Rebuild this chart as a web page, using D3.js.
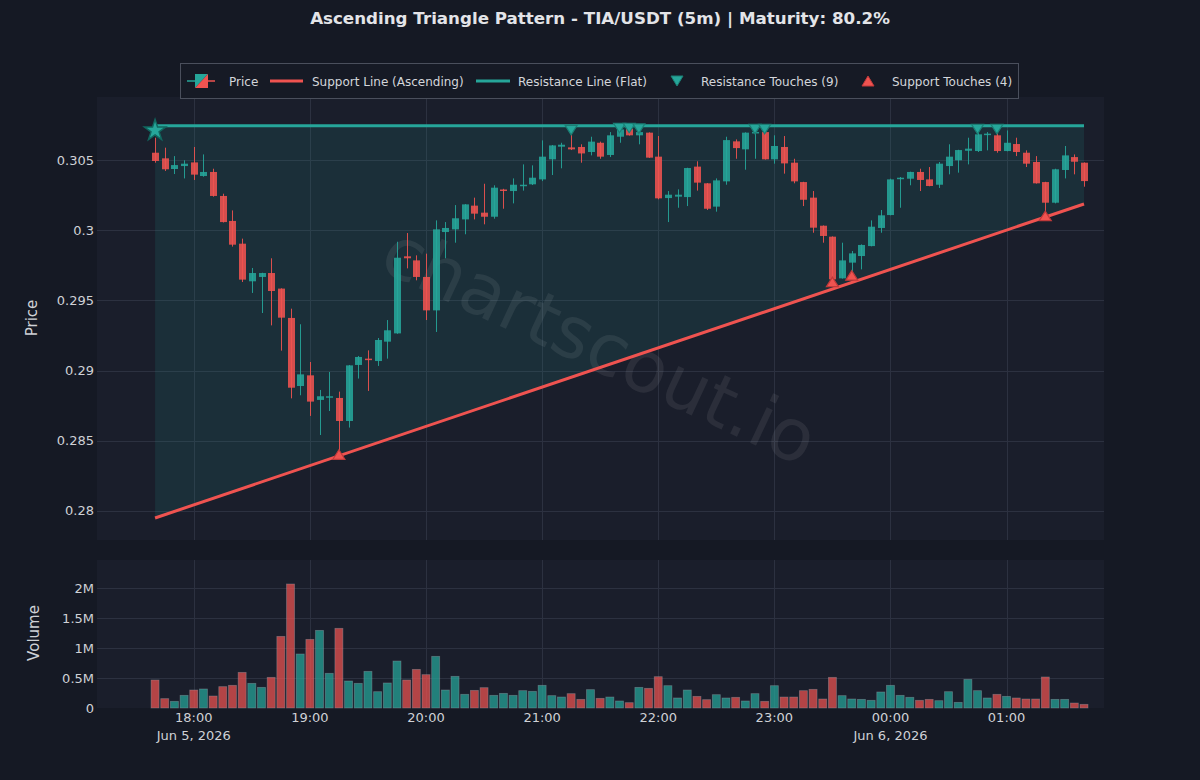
<!DOCTYPE html>
<html><head><meta charset="utf-8">
<script src="https://cdn.jsdelivr.net/npm/d3@7"></script>
<style>html,body{margin:0;padding:0;background:#151924;}svg{display:block;font-family:"DejaVu Sans",sans-serif;}</style>
</head><body><svg id="c" width="1200" height="780"></svg>
<script>
// ---- data ----
const startTime = Date.UTC(2026, 5, 5, 17, 40);
const intervalMs = 5 * 60 * 1000;
const openP = [0.30552,0.30512,0.30436,0.30457,0.30483,0.30386,0.30415,0.30244,0.30066,0.29904,0.29636,0.29667,0.29695,0.29584,0.29375,0.28890,0.28966,0.28791,0.28812,0.28805,0.28641,0.29040,0.29085,0.29068,0.29206,0.29265,0.29814,0.29785,0.29667,0.29429,0.29987,0.30006,0.30077,0.30175,0.30125,0.30096,0.30290,0.30279,0.30315,0.30327,0.30362,0.30505,0.30595,0.30590,0.30593,0.30557,0.30623,0.30536,0.30666,0.30723,0.30676,0.30695,0.30524,0.30229,0.30239,0.30236,0.30453,0.30334,0.30168,0.30348,0.30633,0.30576,0.30690,0.30699,0.30505,0.30593,0.30481,0.30343,0.30232,0.30032,0.29954,0.29657,0.29769,0.29816,0.29887,0.30016,0.30108,0.30367,0.30367,0.30415,0.30362,0.30324,0.30457,0.30498,0.30566,0.30564,0.30678,0.30676,0.30564,0.30614,0.30552,0.30486,0.30343,0.30196,0.30429,0.30521,0.30481];
const highP = [0.30659,0.30588,0.30528,0.30498,0.30593,0.30540,0.30438,0.30260,0.30141,0.29940,0.29731,0.29697,0.29800,0.29586,0.29441,0.29330,0.29061,0.28862,0.28990,0.28850,0.29040,0.29104,0.29144,0.29232,0.29360,0.29918,0.29980,0.29821,0.29833,0.30070,0.30058,0.30179,0.30186,0.30232,0.30331,0.30320,0.30295,0.30369,0.30469,0.30462,0.30640,0.30607,0.30623,0.30715,0.30612,0.30666,0.30631,0.30699,0.30730,0.30730,0.30725,0.30697,0.30671,0.30279,0.30291,0.30445,0.30491,0.30336,0.30369,0.30666,0.30647,0.30697,0.30722,0.30722,0.30676,0.30671,0.30509,0.30345,0.30279,0.30034,0.29956,0.29911,0.29852,0.29899,0.30070,0.30144,0.30367,0.30379,0.30417,0.30438,0.30450,0.30486,0.30612,0.30573,0.30659,0.30722,0.30699,0.30722,0.30711,0.30659,0.30569,0.30528,0.30345,0.30438,0.30600,0.30540,0.30483];
const lowP = [0.30481,0.30422,0.30400,0.30369,0.30358,0.30381,0.30239,0.30055,0.29883,0.29631,0.29553,0.29410,0.29322,0.29142,0.28802,0.28824,0.28677,0.28541,0.28712,0.28400,0.28594,0.28943,0.28855,0.29033,0.29085,0.29262,0.29728,0.29643,0.29360,0.29275,0.29800,0.29911,0.29971,0.30077,0.30042,0.30082,0.30153,0.30191,0.30282,0.30322,0.30350,0.30393,0.30441,0.30571,0.30481,0.30533,0.30509,0.30521,0.30623,0.30674,0.30612,0.30515,0.30220,0.30058,0.30160,0.30172,0.30282,0.30144,0.30132,0.30324,0.30509,0.30431,0.30509,0.30503,0.30474,0.30403,0.30334,0.30172,0.29982,0.29911,0.29630,0.29655,0.29676,0.29721,0.29885,0.29982,0.30106,0.30160,0.30320,0.30279,0.30313,0.30301,0.30398,0.30410,0.30469,0.30557,0.30569,0.30552,0.30562,0.30528,0.30450,0.30332,0.30100,0.30191,0.30369,0.30398,0.30310];
const closeP = [0.30493,0.30434,0.30464,0.30474,0.30396,0.30415,0.30244,0.30058,0.29897,0.29648,0.29695,0.29695,0.29567,0.29377,0.28878,0.28973,0.28779,0.28817,0.28817,0.28641,0.29037,0.29097,0.29085,0.29218,0.29287,0.29804,0.29800,0.29667,0.29429,0.30006,0.30016,0.30085,0.30184,0.30118,0.30096,0.30303,0.30290,0.30324,0.30324,0.30374,0.30524,0.30604,0.30609,0.30576,0.30547,0.30631,0.30524,0.30676,0.30718,0.30676,0.30699,0.30517,0.30227,0.30253,0.30253,0.30443,0.30339,0.30153,0.30355,0.30642,0.30585,0.30695,0.30700,0.30505,0.30600,0.30476,0.30348,0.30217,0.30018,0.29959,0.29650,0.29785,0.29835,0.29895,0.30025,0.30106,0.30362,0.30374,0.30415,0.30358,0.30315,0.30474,0.30524,0.30571,0.30581,0.30683,0.30688,0.30564,0.30623,0.30557,0.30474,0.30334,0.30196,0.30434,0.30533,0.30488,0.30350];
const volume = [467000,156000,111000,211000,300000,317000,200000,356000,378000,594000,411000,344000,511000,1194000,2067000,900000,1144000,1294000,578000,1328000,450000,411000,611000,272000,417000,783000,467000,644000,556000,861000,300000,528000,228000,294000,339000,211000,244000,211000,289000,278000,378000,206000,183000,239000,144000,306000,161000,183000,117000,89000,344000,328000,522000,372000,167000,300000,194000,139000,222000,167000,178000,117000,239000,111000,372000,183000,183000,289000,311000,150000,511000,206000,150000,144000,128000,267000,378000,211000,178000,128000,144000,122000,272000,94000,478000,289000,167000,228000,194000,167000,150000,150000,517000,144000,144000,83000,61000];
const resistanceLevel = 0.30745;
const supportStart = 0.27950;
const supportEnd = 0.30187;
const resistanceTouchIdx = [43, 48, 49, 50, 62, 63, 85, 87];
const supportTouchIdx = [19, 70, 72, 92];
const starIdx = 0, starPrice = 0.3071;
const priceTicks = [0.28, 0.285, 0.29, 0.295, 0.3, 0.305];
const priceTickLabels = ["0.28", "0.285", "0.29", "0.295", "0.3", "0.305"];
const volTicks = [0, 500000, 1000000, 1500000, 2000000];
const volTickLabels = ["0", "0.5M", "1M", "1.5M", "2M"];
const hourTicks = [Date.UTC(2026,5,5,18),Date.UTC(2026,5,5,19),Date.UTC(2026,5,5,20),Date.UTC(2026,5,5,21),Date.UTC(2026,5,5,22),Date.UTC(2026,5,5,23),Date.UTC(2026,5,6,0),Date.UTC(2026,5,6,1)];
const dateLabels = {0: "Jun 5, 2026", 6: "Jun 6, 2026"};
const titleText = "Ascending Triangle Pattern - TIA/USDT (5m) | Maturity: 80.2%";
const legendItems = ["Price", "Support Line (Ascending)", "Resistance Line (Flat)", "Resistance Touches (9)", "Support Touches (4)"];

const times = openP.map((_, i) => new Date(startTime + i * intervalMs));
const UP = "#26a69a", DOWN = "#ef5350";

// ---- layout ----
const svg = d3.select("#c");
const L = 97, R = 1104, PT = 97, PB = 540, VT = 560, VB = 708;
const x = d3.scaleUtc().domain([new Date(Date.UTC(2026,5,5,17,10)), new Date(Date.UTC(2026,5,6,1,50,20))]).range([L, R]);
const yP = d3.scaleLinear().domain([0.27793, 0.30949]).range([PB, PT]);
const yV = d3.scaleLinear().domain([0, 2467000]).range([VB, VT]);

svg.append("rect").attr("width", 1200).attr("height", 780).attr("fill", "#151924");
svg.append("rect").attr("x", L).attr("y", PT).attr("width", R - L).attr("height", PB - PT).attr("fill", "#1a1e2b");
svg.append("rect").attr("x", L).attr("y", VT).attr("width", R - L).attr("height", VB - VT).attr("fill", "#1a1e2b");

const gridC = "#2c3140";
const g = svg.append("g");
hourTicks.forEach(t => {
  const xx = Math.round(x(new Date(t))) + 0.5;
  g.append("line").attr("x1", xx).attr("x2", xx).attr("y1", PT).attr("y2", PB).attr("stroke", gridC);
  g.append("line").attr("x1", xx).attr("x2", xx).attr("y1", VT).attr("y2", VB).attr("stroke", gridC);
});
priceTicks.forEach(v => {
  const yy = Math.round(yP(v)) + 0.5;
  g.append("line").attr("x1", L).attr("x2", R).attr("y1", yy).attr("y2", yy).attr("stroke", gridC);
});
volTicks.forEach(v => {
  if (v === 0) return;
  const yy = Math.round(yV(v)) + 0.5;
  g.append("line").attr("x1", L).attr("x2", R).attr("y1", yy).attr("y2", yy).attr("stroke", gridC);
});

const tl = svg.append("g").attr("fill", "#cfd1d6").attr("font-size", 13);
priceTicks.forEach((v, i) => tl.append("text").attr("x", 94).attr("y", yP(v)).attr("dy", "0.35em").attr("text-anchor", "end").text(priceTickLabels[i]));
volTicks.forEach((v, i) => tl.append("text").attr("x", 94).attr("y", yV(v)).attr("dy", "0.35em").attr("text-anchor", "end").text(volTickLabels[i]));
hourTicks.forEach((t, i) => {
  tl.append("text").attr("x", x(new Date(t))).attr("y", 722).attr("text-anchor", "middle").text(d3.utcFormat("%H:%M")(new Date(t)));
  if (dateLabels[i]) tl.append("text").attr("x", x(new Date(t))).attr("y", 740).attr("text-anchor", "middle").text(dateLabels[i]);
});
svg.append("text").attr("transform", "translate(32,318) rotate(-90)").attr("text-anchor", "middle").attr("dy", "0.35em").attr("fill", "#cfd1d6").attr("font-size", 15).text("Price");
svg.append("text").attr("transform", "translate(34,633) rotate(-90)").attr("text-anchor", "middle").attr("dy", "0.35em").attr("fill", "#cfd1d6").attr("font-size", 15).text("Volume");

svg.append("text").attr("x", 600).attr("y", 24).attr("text-anchor", "middle").attr("fill", "#e3e4e8").attr("font-size", 16.7).attr("font-weight", "bold").text(titleText);

const t0 = times[0], tN = times[times.length - 1];
svg.append("path").attr("d", d3.line()([[x(t0), yP(resistanceLevel)], [x(tN), yP(resistanceLevel)], [x(tN), yP(supportEnd)], [x(t0), yP(supportStart)]]) + "Z")
  .attr("fill", UP).attr("fill-opacity", 0.13);

svg.append("text").attr("transform", "translate(600,345) rotate(25)").attr("text-anchor", "middle").attr("dy", "0.35em")
  .attr("font-size", 72).attr("fill", "#ffffff").attr("fill-opacity", 0.075).text("chartscout.io");

svg.append("line").attr("x1", x(t0)).attr("x2", x(tN)).attr("y1", yP(resistanceLevel)).attr("y2", yP(resistanceLevel)).attr("stroke", UP).attr("stroke-width", 3);
svg.append("line").attr("x1", x(t0)).attr("x2", x(tN)).attr("y1", yP(supportStart)).attr("y2", yP(supportEnd)).attr("stroke", DOWN).attr("stroke-width", 3);

const cg = svg.append("g");
times.forEach((t, i) => {
  const up = closeP[i] > openP[i];
  const col = up ? UP : DOWN;
  const cx = Math.round(x(t)) + 0.5;
  cg.append("line").attr("x1", cx).attr("x2", cx).attr("y1", yP(highP[i])).attr("y2", yP(lowP[i])).attr("stroke", col).attr("stroke-width", 1).attr("opacity", 0.9);
  const top = yP(Math.max(openP[i], closeP[i])), bot = yP(Math.min(openP[i], closeP[i]));
  cg.append("rect").attr("x", cx - 3.5).attr("y", top).attr("width", 7).attr("height", Math.max(1.5, bot - top)).attr("fill", col).attr("opacity", 0.88);
});

const vg = svg.append("g");
times.forEach((t, i) => {
  const up = closeP[i] >= openP[i];
  const col = up ? UP : DOWN;
  const cx = x(t);
  vg.append("rect").attr("x", cx - 4).attr("y", yV(volume[i])).attr("width", 8).attr("height", yV(0) - yV(volume[i]))
    .attr("fill", col).attr("fill-opacity", 0.72).attr("stroke", "#9aa0a8").attr("stroke-opacity", 0.45).attr("stroke-width", 0.8);
});

const mg = svg.append("g");
resistanceTouchIdx.forEach(i => {
  const cx = x(times[i]), cy = yP(highP[i]);
  mg.append("path").attr("d", `M${cx - 6},${cy - 4.5}L${cx + 6},${cy - 4.5}L${cx},${cy + 5}Z`).attr("fill", UP).attr("stroke", "#1b7f75").attr("stroke-width", 1.2);
});
supportTouchIdx.forEach(i => {
  const cx = x(times[i]), cy = yP(lowP[i]);
  mg.append("path").attr("d", `M${cx - 6},${cy + 4.5}L${cx + 6},${cy + 4.5}L${cx},${cy - 5}Z`).attr("fill", DOWN).attr("stroke", "#c0393a").attr("stroke-width", 1.2);
});
mg.append("path").attr("transform", `translate(${x(times[starIdx])},${yP(starPrice)})`)
  .attr("d", d3.symbol(d3.symbolStar, 140)()).attr("fill", UP).attr("stroke", "#11665e").attr("stroke-width", 1.5);

const lg = svg.append("g");
lg.append("rect").attr("x", 180.5).attr("y", 63.5).attr("width", 838).attr("height", 35).attr("fill", "#161a25").attr("stroke", "#4a4f5c");
const ly = 81;
lg.append("line").attr("x1", 187).attr("x2", 196).attr("y1", ly).attr("y2", ly).attr("stroke", UP).attr("stroke-width", 1.5);
lg.append("line").attr("x1", 206).attr("x2", 215).attr("y1", ly).attr("y2", ly).attr("stroke", DOWN).attr("stroke-width", 1.5);
lg.append("path").attr("d", `M195,${ly - 7}L208,${ly - 7}L195,${ly + 7}Z`).attr("fill", UP);
lg.append("path").attr("d", `M208,${ly - 7}L208,${ly + 7}L195,${ly + 7}Z`).attr("fill", DOWN);
lg.append("line").attr("x1", 270).attr("x2", 303).attr("y1", ly).attr("y2", ly).attr("stroke", DOWN).attr("stroke-width", 3);
lg.append("line").attr("x1", 476).attr("x2", 510).attr("y1", ly).attr("y2", ly).attr("stroke", UP).attr("stroke-width", 3);
lg.append("path").attr("d", `M671,${ly - 5}L683,${ly - 5}L677,${ly + 5}Z`).attr("fill", UP).attr("stroke", "#1b7f75");
lg.append("path").attr("d", `M862,${ly + 5}L874,${ly + 5}L868,${ly - 5}Z`).attr("fill", DOWN).attr("stroke", "#c0393a");
const lx = [229, 312, 518, 701, 892];
legendItems.forEach((s, i) => lg.append("text").attr("x", lx[i]).attr("y", ly + 0.5).attr("dy", "0.35em").attr("fill", "#d4d6db").attr("font-size", 12).text(s));
</script></body></html>
